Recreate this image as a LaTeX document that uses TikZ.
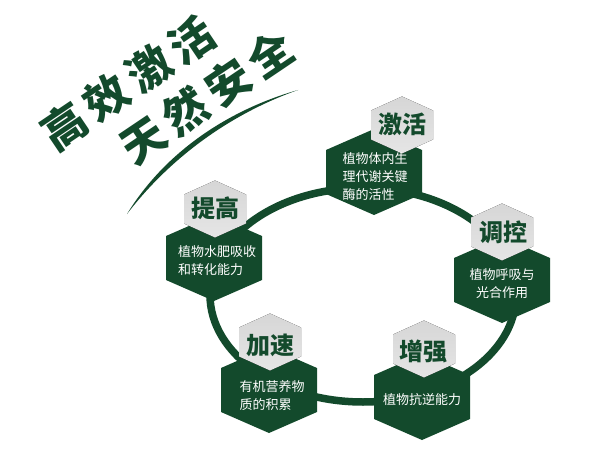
\documentclass[tikz,border=0pt]{standalone}
\usepackage{fontspec}
\usepackage{tikz}
\newfontfamily\cjk{Noto Sans CJK SC}
\definecolor{leaf}{HTML}{134A2C}
% hexagon with a point at top: centre, half width, half side, point height, style
\newcommand{\hexcell}[5]{\fill[#5] (#1) ++(0,{-(#3+#4)}) -- ++(#2,#4) -- ++(0,{2*#3}) -- ++(-#2,#4) -- ++(-#2,-#4) -- ++(0,{-2*#3}) -- cycle;}

\begin{document}
\begin{tikzpicture}[x=1pt, y=-1pt,
  ring/.style={draw=leaf, line width=7.5pt},
  cell/.style={fill=leaf},
  capcell/.style={top color=black!16, middle color=white, bottom color=black!10},
  head/.style={font=\cjk\bfseries\fontsize{24}{24}\selectfont, text=leaf},
  body/.style={font=\cjk\fontsize{13}{18}\selectfont, text=white, align=left},
  slogan/.style={font=\cjk\bfseries\fontsize{44}{44}\selectfont\addfontfeature{LetterSpace=16}, text=leaf, rotate=34}]
  \fill[white] (0,0) rectangle (600,460);
  \useasboundingbox (0,0) rectangle (600,460);

  % slogan and swoosh
  \node[slogan]	(line1)	at	(128,83)	{高效激活};
  \node[slogan]	(line2)	at	(207,97)	{天然安全};
  \fill[leaf] (127,214) .. controls (165,152) and (228,110) .. (298,90) .. controls (230,114) and (170,158) .. (127,214);

  % ring
  \coordinate (mid) at (363,295);
  \draw[ring] (mid) ellipse [x radius=153, y radius=107];

  % cells
  \coordinate	(jihuo)	at	(374,172);
  \coordinate	(tiaokong)	at	(502,280);
  \coordinate	(zengqiang)	at	(422,397);
  \coordinate	(jiasu)	at	(269,390);
  \coordinate	(tigao)	at	(214,258);
  \hexcell{jihuo}{48}{22}{21}{cell}
  \hexcell{tiaokong}{48}{22}{21}{cell}
  \hexcell{zengqiang}{48}{22}{21}{cell}
  \hexcell{jiasu}{48}{22}{21}{cell}
  \hexcell{tigao}{48}{22}{21}{cell}

  \coordinate	(jihuo-c)	at	(402,125);
  \coordinate	(tiaokong-c)	at	(502,232);
  \coordinate	(zengqiang-c)	at	(424,349);
  \coordinate	(jiasu-c)	at	(270,342);
  \coordinate	(tigao-c)	at	(215,209);
  \hexcell{jihuo-c}{31}{14.5}{14}{capcell}
  \hexcell{tiaokong-c}{31}{14.5}{14}{capcell}
  \hexcell{zengqiang-c}{31}{14.5}{14}{capcell}
  \hexcell{jiasu-c}{31}{14.5}{14}{capcell}
  \hexcell{tigao-c}{31}{14.5}{14}{capcell}

  % texts
  \node[head]	(jihuo-h)	at	(402,124)	{激活};
  \node[head]	(tiaokong-h)	at	(503,232)	{调控};
  \node[head]	(zengqiang-h)	at	(423,351)	{增强};
  \node[head]	(jiasu-h)	at	(270,345)	{加速};
  \node[head]	(tigao-h)	at	(215,208)	{提高};
  \node[body]	(jihuo-b)	at	(375,177)	{植物体内生\\理代谢关键\\酶的活性};
  \node[body, align=center]	(tiaokong-b)	at	(502,284)	{植物呼吸与\\光合作用};
  \node[body]	(zengqiang-b)	at	(422,400)	{植物抗逆能力};
  \node[body]	(jiasu-b)	at	(272,396)	{有机营养物\\质的积累};
  \node[body]	(tigao-b)	at	(217,261)	{植物水肥吸收\\和转化能力};
\end{tikzpicture}
\end{document}
